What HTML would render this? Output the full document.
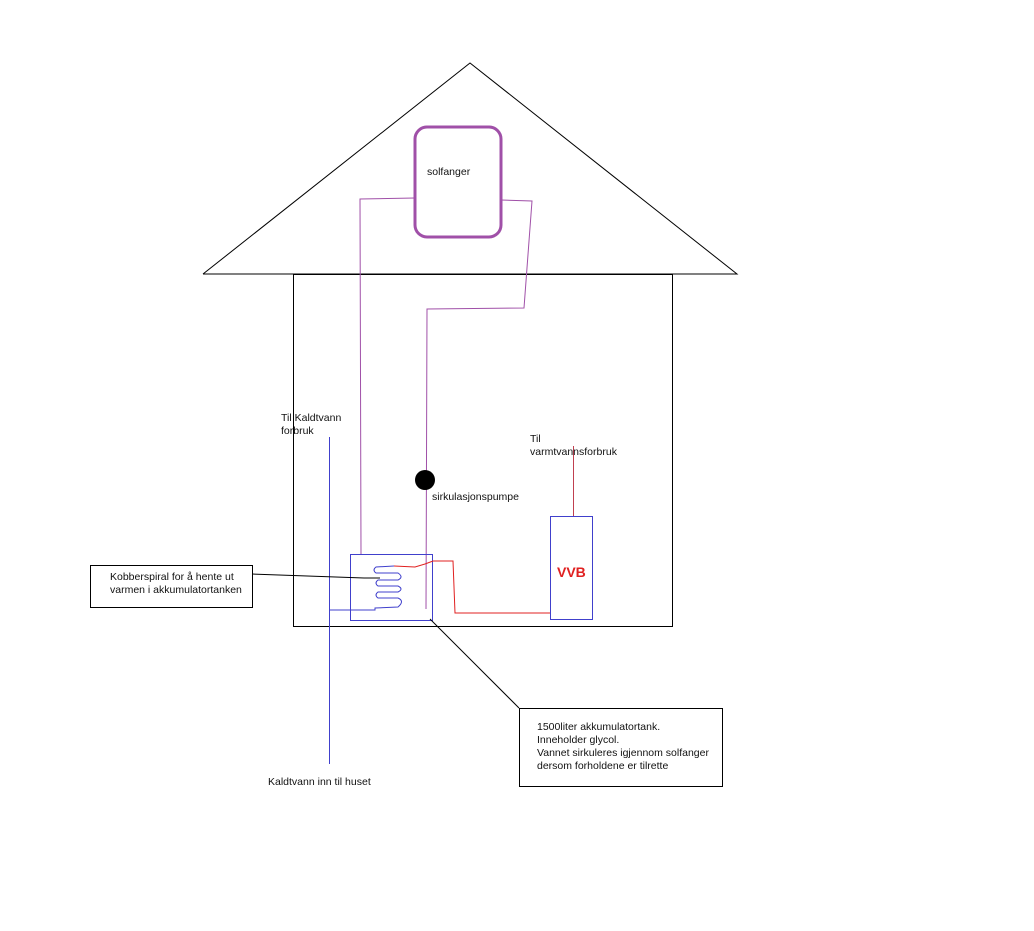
<!DOCTYPE html>
<html><head><style>
body{margin:0;background:#fff;width:1034px;height:926px;overflow:hidden}
svg text{font-family:"Liberation Sans",sans-serif;font-size:10.5px;fill:#111}
</style></head><body>
<svg width="1034" height="926" viewBox="0 0 1034 926" xmlns="http://www.w3.org/2000/svg">
<g fill="none" stroke-width="1">
<polyline points="203,274 470,63 737,274 203,274" stroke="#000"/>
<rect x="293.5" y="274.5" width="379" height="352" stroke="#000"/>
<rect x="415" y="127" width="86" height="110" rx="12" stroke="#a050a8" stroke-width="3"/>
<polyline points="415,198 360,199 361,554" stroke="#a050a8"/>
<polyline points="501,200 532,201 524,308 427,309 426,609" stroke="#a050a8"/>
<circle cx="425" cy="480" r="10" fill="#000" stroke="none"/>
<rect x="350.5" y="554.5" width="82" height="66" stroke="#4040cc"/>
<path d="M394,566 L376,567 Q372,570 376,573 L398,573 Q404,577 398,580 L378,580 Q374,583 378,586 L398,586 Q404,589 398,592 L378,592 Q374,595 378,598 L398,598 Q405,601 398,607 L375,608 L375,610 L329,610" stroke="#4040cc"/>
<path d="M394,566 L415,567 L425,564 L433,561 L453,561 L455,613 L551,613" stroke="#e02020"/>
<line x1="329.5" y1="437" x2="329.5" y2="764" stroke="#4040cc"/>
<rect x="550.5" y="516.5" width="42" height="103" stroke="#4040cc"/>
<line x1="573.5" y1="446" x2="573.5" y2="516" stroke="#c04050"/>
<rect x="90.5" y="565.5" width="162" height="42" stroke="#000"/>
<polyline points="252,574 364,578 380,578" stroke="#000"/>
<line x1="430" y1="619" x2="519" y2="708" stroke="#000"/>
<rect x="519.5" y="708.5" width="203" height="78" stroke="#000"/>
</g>
<text x="427" y="175">solfanger</text>
<text x="281" y="421">Til Kaldtvann</text>
<text x="281" y="434">forbruk</text>
<text x="530" y="442">Til</text>
<text x="530" y="455">varmtvannsforbruk</text>
<text x="432" y="500">sirkulasjonspumpe</text>
<text x="557" y="577" style="font-size:14px;font-weight:bold;fill:#e02020">VVB</text>
<text x="110" y="580">Kobberspiral for å hente ut</text>
<text x="110" y="593">varmen i akkumulatortanken</text>
<text x="537" y="730">1500liter akkumulatortank.</text>
<text x="537" y="743">Inneholder glycol.</text>
<text x="537" y="756">Vannet sirkuleres igjennom solfanger</text>
<text x="537" y="769">dersom forholdene er tilrette</text>
<text x="268" y="785">Kaldtvann inn til huset</text>
</svg>
</body></html>
